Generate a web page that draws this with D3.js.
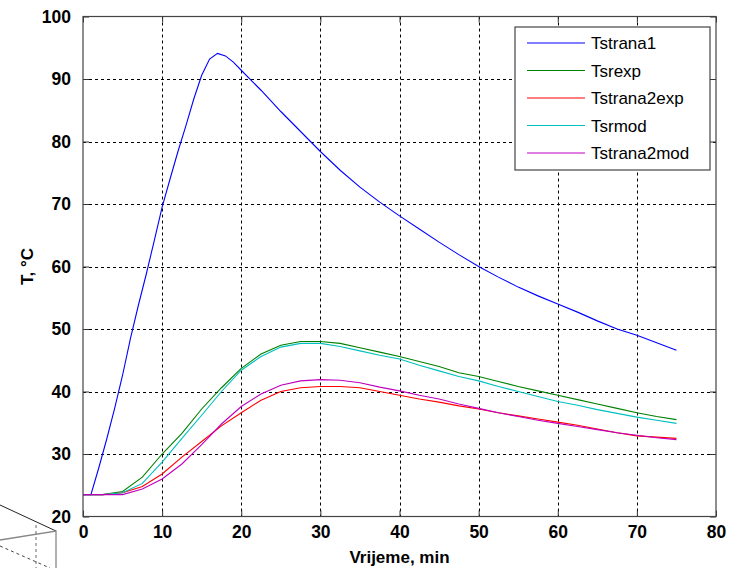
<!DOCTYPE html>
<html>
<head>
<meta charset="utf-8">
<script src="https://cdn.jsdelivr.net/npm/d3@7"></script>
<style>
  body { margin: 0; background: #fff; }
  svg { display: block; }
</style>
</head>
<body>
<script>
// time axis (min) for the blue curve, finer around the peak
const tBlue = [0,1,2,3,4,5,6,7,8,9,10,11,12,13,14,15,16,17,18,19,20,
  22.5,25,27.5,30,32.5,35,37.5,40,42.5,45,47.5,50,52.5,55,57.5,60,62.5,65,67.5,70,72.5,75]
const tstrana1 = [23.5,23.5,27.8,32.4,37.3,42.6,48.5,53.8,58.8,64.1,69.5,74.0,78.4,82.5,86.8,90.6,93.2,94.1,93.7,92.7,91.4,
  88.2,84.8,81.6,78.4,75.4,72.7,70.3,68.1,66.0,63.9,61.9,60.0,58.3,56.7,55.3,54.0,52.7,51.3,50.0,49.0,47.8,46.6]

// time axis for the lower curves
const tLow = [0,2.5,5,7.5,10,12.5,15,17.5,20,22.5,25,27.5,30,32.5,35,37.5,40,42.5,45,47.5,50,52.5,55,57.5,60,62.5,65,67.5,70,72.5,75]
const tsrexp = [23.5,23.5,24.0,26.3,30.0,33.3,37.2,40.6,43.7,46.0,47.4,48.0,48.0,47.7,47.0,46.3,45.6,44.8,44.0,43.0,42.4,41.6,40.8,40.1,39.4,38.7,38.0,37.3,36.6,36.0,35.5]
const tstrana2exp = [23.5,23.5,23.8,24.8,26.8,29.5,32.0,34.5,36.6,38.6,40.0,40.6,40.8,40.8,40.6,40.0,39.4,38.8,38.3,37.7,37.2,36.6,36.1,35.6,35.1,34.6,34.0,33.4,32.9,32.7,32.5]
const tsrmod = [23.5,23.5,23.8,25.3,28.7,32.5,36.2,40.0,43.4,45.6,47.1,47.7,47.7,47.2,46.5,45.8,45.2,44.2,43.3,42.4,41.7,40.8,40.0,39.2,38.4,37.8,37.1,36.5,35.9,35.4,34.9]
const tstrana2mod = [23.5,23.5,23.5,24.4,26.0,28.4,31.5,34.8,37.6,39.6,41.0,41.7,41.9,41.8,41.4,40.7,40.1,39.4,38.8,38.0,37.3,36.6,36.0,35.4,34.9,34.4,33.9,33.4,33.0,32.6,32.3]

const xTicks = [0,10,20,30,40,50,60,70,80]
const yTicks = [20,30,40,50,60,70,80,90,100]

const series = [
  {name: 'Tstrana1',    t: tBlue, v: tstrana1,    color: '#0000ff'},
  {name: 'Tsrexp',      t: tLow,  v: tsrexp,      color: '#008000'},
  {name: 'Tstrana2exp', t: tLow,  v: tstrana2exp, color: '#ff0000'},
  {name: 'Tsrmod',      t: tLow,  v: tsrmod,      color: '#00bfbf'},
  {name: 'Tstrana2mod', t: tLow,  v: tstrana2mod, color: '#bf00bf'}
]

const W = 729, H = 568
const L = 83, R = 716, T = 16.5, B = 516.5

const svg = d3.select('body').append('svg')
  .attr('width', W).attr('height', H)

const x = d3.scaleLinear().domain([0, 80]).range([L, R])
const y = d3.scaleLinear().domain([20, 100]).range([B, T])

// grid
const grid = svg.append('g')
grid.selectAll('.gx').data(xTicks.slice(1, -1)).join('line')
  .attr('x1', d => Math.round(x(d)) + 0.5).attr('x2', d => Math.round(x(d)) + 0.5)
  .attr('y1', T).attr('y2', B)
  .attr('stroke', '#000').attr('stroke-dasharray', '3,3')
grid.selectAll('.gy').data(yTicks.slice(1, -1)).join('line')
  .attr('y1', d => Math.round(y(d)) + 0.5).attr('y2', d => Math.round(y(d)) + 0.5)
  .attr('x1', L).attr('x2', R)
  .attr('stroke', '#000').attr('stroke-dasharray', '3,3')

// curves
const line = d3.line()
  .x(d => x(d[0]))
  .y(d => y(d[1]))

svg.append('g').selectAll('path')
  .data(series)
  .join('path')
  .attr('d', s => line(s.t.map((t, i) => [t, s.v[i]])))
  .attr('fill', 'none')
  .attr('stroke', s => s.color)
  .attr('stroke-width', 1.1)

// frame and axes (ticks inside, all four sides)
const axisStyle = g => {
  g.select('.domain').remove()
  g.selectAll('.tick line').attr('stroke', '#333')
  g.selectAll('.tick text')
    .attr('font-family', 'Liberation Sans, Arial, sans-serif')
    .attr('font-size', 17.5).attr('font-weight', 'bold').attr('fill', '#000')
}
svg.append('g').attr('transform', `translate(0,${B})`)
  .call(d3.axisBottom(x).tickValues(xTicks).tickSize(-6).tickPadding(9))
  .call(axisStyle)
svg.append('g').attr('transform', `translate(${L},0)`)
  .call(d3.axisLeft(y).tickValues(yTicks).tickSize(-6).tickPadding(12))
  .call(axisStyle)
svg.append('g').attr('transform', `translate(0,${T})`)
  .call(d3.axisTop(x).tickValues(xTicks).tickSize(-6).tickFormat(''))
  .call(axisStyle)
svg.append('g').attr('transform', `translate(${R},0)`)
  .call(d3.axisRight(y).tickValues(yTicks).tickSize(-6).tickFormat(''))
  .call(axisStyle)

svg.append('rect')
  .attr('x', L).attr('y', T).attr('width', R - L).attr('height', B - T)
  .attr('fill', 'none').attr('stroke', '#444').attr('stroke-width', 1.2)

// axis titles
svg.append('text')
  .attr('x', (L + R) / 2).attr('y', 563)
  .attr('text-anchor', 'middle')
  .attr('font-family', 'Liberation Sans, Arial, sans-serif')
  .attr('font-size', 17).attr('font-weight', 'bold')
  .text('Vrijeme, min')
svg.append('text')
  .attr('transform', `translate(33,${(T + B) / 2}) rotate(-90)`)
  .attr('text-anchor', 'middle')
  .attr('font-family', 'Liberation Sans, Arial, sans-serif')
  .attr('font-size', 17).attr('font-weight', 'bold')
  .text('T, °C')

// legend
const lg = svg.append('g').attr('transform', 'translate(515,27)')
lg.append('rect')
  .attr('width', 195).attr('height', 143)
  .attr('fill', '#fff').attr('stroke', '#444').attr('stroke-width', 1.2)
const item = lg.selectAll('g.item').data(series).join('g')
  .attr('transform', (d, i) => `translate(0,${16 + i * 27.5})`)
item.append('line')
  .attr('x1', 12).attr('x2', 70)
  .attr('stroke', d => d.color).attr('stroke-width', 1.1)
item.append('text')
  .attr('x', 76).attr('y', 6)
  .attr('font-family', 'Liberation Sans, Arial, sans-serif')
  .attr('font-size', 17)
  .text(d => d.name)

// leftover 3D box fragment at the bottom-left corner
const deco = svg.append('g').attr('fill', 'none')
deco.append('path').attr('d', 'M0,505 L56,531').attr('stroke', '#222')
deco.append('path').attr('d', 'M0,540 L56,531 L56,568').attr('stroke', '#888').attr('stroke-width', 1.3)
deco.append('path').attr('d', 'M36,525 L36,568').attr('stroke', '#666').attr('stroke-dasharray', '3,3')
deco.append('path').attr('d', 'M0,546 L50,568').attr('stroke', '#444').attr('stroke-dasharray', '3,3')
</script>
</body>
</html>
